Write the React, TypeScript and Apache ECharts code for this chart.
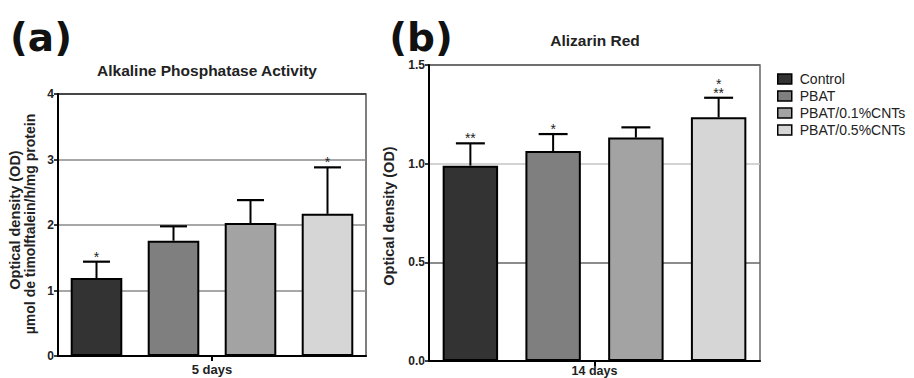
import React, { useEffect, useRef } from "react";
import * as echarts from "echarts";

// ---- data ----
const groups = ["Control", "PBAT", "PBAT/0.1%CNTs", "PBAT/0.5%CNTs"];
const groupColors = ["#333333", "#7f7f7f", "#a3a3a3", "#d6d6d6"];

const alpTitle = "Alkaline Phosphatase Activity";
const alpDay = "5 days";
const alpMeans = [1.19, 1.76, 2.03, 2.17];
const alpSD = [0.25, 0.22, 0.35, 0.71];
const alpStars = ["*", "", "", "*"];
const alpMin = 0;
const alpMax = 4;
const alpInterval = 1;

const arTitle = "Alizarin Red";
const arDay = "14 days";
const arMeans = [0.99, 1.064, 1.132, 1.235];
const arSD = [0.113, 0.086, 0.052, 0.099];
const arStars = ["**", "*", "", "*\n**"];
const arMin = 0;
const arMax = 1.5;
const arInterval = 0.5;

const FONT = "'Liberation Sans', Arial, Helvetica, sans-serif";

function barSeries(gridIdx: number, means: number[]) {
  return groups.map((g, i) => ({
    type: "bar",
    name: g,
    xAxisIndex: gridIdx * 2,
    yAxisIndex: gridIdx,
    barWidth: "67%",
    barGap: "-100%",
    data: means.map((v, j) => (j === i ? v : "-")),
    itemStyle: { color: groupColors[i], borderColor: "#000", borderWidth: 2 },
    emphasis: { disabled: true },
  }));
}

function errorSeries(gridIdx: number, means: number[], sds: number[], stars: string[]) {
  return {
    type: "custom",
    xAxisIndex: gridIdx * 2,
    yAxisIndex: gridIdx,
    silent: true,
    z: 5,
    encode: { x: 0, y: 1 },
    data: means.map((m, i) => [i, m, sds[i]]),
    renderItem: (params: any, api: any) => {
      const idx = api.value(0);
      const mean = api.value(1);
      const sd = api.value(2);
      const base = api.coord([idx, mean]);
      const top = api.coord([idx, mean + sd]);
      const band = api.size([1, 0])[0];
      const half = band * 0.175;
      const children: any[] = [
        {
          type: "line",
          shape: { x1: base[0], y1: base[1], x2: top[0], y2: top[1] },
          style: { stroke: "#000", lineWidth: 2 },
        },
        {
          type: "line",
          shape: { x1: top[0] - half, y1: top[1], x2: top[0] + half, y2: top[1] },
          style: { stroke: "#000", lineWidth: 2.2 },
        },
      ];
      const s = stars[params.dataIndex] || "";
      if (s.length) {
        children.push({
          type: "text",
          x: top[0],
          y: top[1] - 0.5,
          style: {
            text: s,
            fill: "#222",
            font: `14px ${FONT}`,
            lineHeight: 9,
            textAlign: "center",
            textVerticalAlign: "bottom",
          },
        });
      }
      return { type: "group", children };
    },
  };
}

export default function App() {
  const ref = useRef<HTMLDivElement>(null);
  useEffect(() => {
    if (!ref.current) return;
    const chart = echarts.init(ref.current, undefined, { renderer: "svg" });

    const yLabel = (fmt?: (v: number) => string) => ({
      show: true,
      color: "#222",
      fontFamily: FONT,
      fontWeight: "bold",
      fontSize: 12,
      margin: 4,
      formatter: fmt,
    });

    const option: any = {
      animation: false,
      backgroundColor: "#fff",
      grid: [
        {
          left: 58, top: 94, width: 308, height: 262,
          show: true, borderColor: "#555", borderWidth: 1.5,
          containLabel: false, outerBoundsMode: "none",
        },
        {
          left: 429, top: 65, width: 331, height: 296,
          show: true, borderColor: "#666", borderWidth: 1.5,
          containLabel: false, outerBoundsMode: "none",
        },
      ],
      xAxis: [
        {
          type: "category", gridIndex: 0, data: groups, position: "bottom",
          axisLine: { show: true, lineStyle: { color: "#000", width: 2 } },
          axisTick: { show: false }, axisLabel: { show: false }, splitLine: { show: false },
        },
        {
          type: "category", gridIndex: 0, data: [alpDay], position: "bottom",
          axisLine: { show: false },
          axisTick: { show: true, alignWithLabel: true, length: 5, lineStyle: { color: "#000", width: 2 } },
          axisLabel: { show: true, color: "#222", fontFamily: FONT, fontWeight: "bold", fontSize: 13, margin: 7 },
        },
        {
          type: "category", gridIndex: 1, data: groups, position: "bottom",
          axisLine: { show: true, lineStyle: { color: "#000", width: 2 } },
          axisTick: { show: false }, axisLabel: { show: false }, splitLine: { show: false },
        },
        {
          type: "category", gridIndex: 1, data: [arDay], position: "bottom",
          axisLine: { show: false },
          axisTick: { show: true, alignWithLabel: true, length: 5, lineStyle: { color: "#000", width: 2 } },
          axisLabel: { show: true, color: "#222", fontFamily: FONT, fontWeight: "bold", fontSize: 12.5, margin: 3 },
        },
      ],
      yAxis: [
        {
          type: "value", gridIndex: 0, min: alpMin, max: alpMax, interval: alpInterval,
          axisLine: { show: true, lineStyle: { color: "#000", width: 2 } },
          axisTick: { show: true, length: 4, lineStyle: { color: "#000", width: 1.5 } },
          axisLabel: yLabel(),
          splitLine: { show: true, lineStyle: { color: ["#000", "#8a8a8a", "#8a8a8a", "#8a8a8a", "#333"], width: 1.5 } },
        },
        {
          type: "value", gridIndex: 1, min: arMin, max: arMax, interval: arInterval,
          axisLine: { show: true, lineStyle: { color: "#000", width: 2 } },
          axisTick: { show: true, length: 4, lineStyle: { color: "#000", width: 1.5 } },
          axisLabel: yLabel((v: number) => v.toFixed(1)),
          splitLine: { show: true, lineStyle: { color: ["#000", "#666", "#c4c4c4", "#666"], width: 1.5 } },
        },
      ],
      legend: {
        show: true,
        orient: "vertical",
        left: 772,
        top: 67,
        data: groups,
        icon: "rect",
        itemWidth: 14,
        itemHeight: 10,
        itemGap: 3,
        itemStyle: { borderColor: "#000", borderWidth: 1.5 },
        textStyle: { fontFamily: FONT, fontSize: 14, color: "#222", padding: [0, 0, 0, 3] },
        selectedMode: false,
      },
      graphic: [
        { type: "text", x: 41, y: 37, style: { text: "(a)", font: `bold 39px 'DejaVu Sans', Verdana, sans-serif`, fill: "#111", textAlign: "center", textVerticalAlign: "middle" } },
        { type: "text", x: 421, y: 37, style: { text: "(b)", font: `bold 39px 'DejaVu Sans', Verdana, sans-serif`, fill: "#111", textAlign: "center", textVerticalAlign: "middle" } },
        { type: "text", x: 207, y: 70, style: { text: alpTitle, font: `bold 15.5px ${FONT}`, fill: "#222", textAlign: "center", textVerticalAlign: "middle" } },
        { type: "text", x: 595, y: 40, style: { text: arTitle, font: `bold 15.5px ${FONT}`, fill: "#222", textAlign: "center", textVerticalAlign: "middle" } },
        { type: "text", x: 15, y: 220, rotation: Math.PI / 2, style: { text: "Optical density (OD)", font: `bold 14.5px ${FONT}`, fill: "#222", textAlign: "center", textVerticalAlign: "middle" } },
        { type: "text", x: 30, y: 224, rotation: Math.PI / 2, style: { text: "µmol de timolftalein/h/mg protein", font: `bold 14px ${FONT}`, fill: "#222", textAlign: "center", textVerticalAlign: "middle" } },
        { type: "text", x: 389, y: 216, rotation: Math.PI / 2, style: { text: "Optical density (OD)", font: `bold 14.5px ${FONT}`, fill: "#222", textAlign: "center", textVerticalAlign: "middle" } },
      ],
      series: [
        ...barSeries(0, alpMeans),
        errorSeries(0, alpMeans, alpSD, alpStars),
        ...barSeries(1, arMeans),
        errorSeries(1, arMeans, arSD, arStars),
      ],
    };
    chart.setOption(option);
    return () => chart.dispose();
  }, []);
  return (
    <div
      ref={ref}
      style={{ position: "absolute", left: 0, top: 0, width: 914, height: 378, background: "#fff" }}
    />
  );
}
